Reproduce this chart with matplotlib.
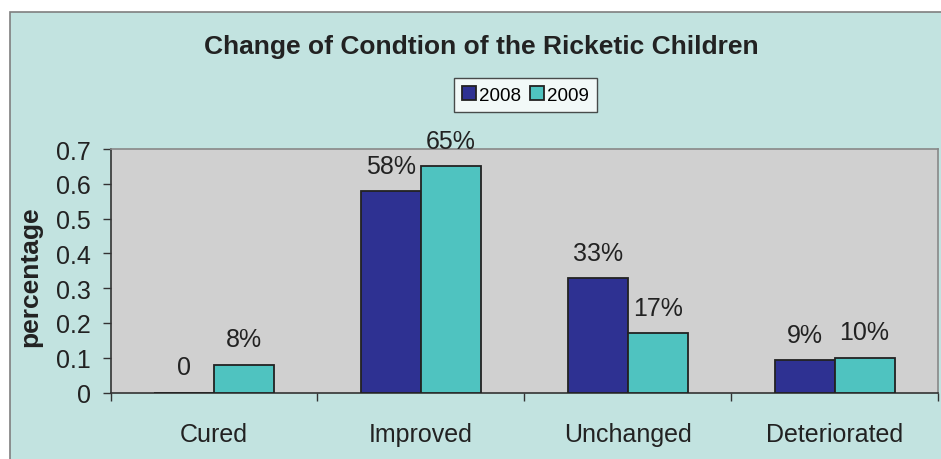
import matplotlib
matplotlib.use('Agg')
import matplotlib.pyplot as plt
from matplotlib.patches import Rectangle
from matplotlib.ticker import FuncFormatter, FixedLocator
import numpy as np

plt.rcParams['font.family'] = ['Liberation Sans', 'DejaVu Sans']

categories = ['Cured', 'Improved', 'Unchanged', 'Deteriorated']
series_names = ['2008', '2009']
values_2008 = [0.0, 0.58, 0.33, 0.093]
values_2009 = [0.08, 0.65, 0.17, 0.10]
labels_2008 = ['0', '58%', '33%', '9%']
labels_2009 = ['8%', '65%', '17%', '10%']
y_ticks = [0, 0.1, 0.2, 0.3, 0.4, 0.5, 0.6, 0.7]

col_2008 = '#2e3192'
col_2009 = '#4fc3c0'
bg_outer = '#c2e3e0'
bg_plot = '#d0d0d0'

fig = plt.figure(figsize=(9.41, 4.6), dpi=100)
fig.patch.set_facecolor('white')

# chart area frame (cropped on the right and bottom)
frame = Rectangle((10 / 941, -0.1), 1.1, 1 - 13 / 460 + 0.1,
                  transform=fig.transFigure, facecolor=bg_outer,
                  edgecolor='#7f7f7f', linewidth=1.2, zorder=-10)
fig.patches.append(frame)

ax = fig.add_axes([110.5 / 941, 1 - 393.5 / 460, 827.5 / 941, 243.5 / 460])
ax.set_zorder(2)
ax.set_facecolor(bg_plot)

x = np.arange(len(categories))
w = 0.29
b1 = ax.bar(x - w / 2, values_2008, w, color=col_2008, edgecolor='#222222',
            linewidth=1.3, label=series_names[0], zorder=3)
b2 = ax.bar(x + w / 2, values_2009, w, color=col_2009, edgecolor='#222222',
            linewidth=1.3, label=series_names[1], zorder=3)

lab_size = 18
for rect, lab in zip(b1, labels_2008):
    ax.annotate(lab, (rect.get_x() + rect.get_width() / 2, rect.get_height()),
                xytext=(0, 18), textcoords='offset points', ha='center',
                va='center', fontsize=lab_size, color='#222222')
for rect, lab in zip(b2, labels_2009):
    ax.annotate(lab, (rect.get_x() + rect.get_width() / 2, rect.get_height()),
                xytext=(0, 18.5), textcoords='offset points', ha='center',
                va='center', fontsize=lab_size, color='#222222')

ax.set_xlim(-0.5, len(categories) - 0.5)
ax.set_ylim(0, 0.7)
ax.set_yticks(y_ticks)
ax.yaxis.set_major_formatter(FuncFormatter(lambda v, p: '0' if v == 0 else f'{v:g}'))
ax.tick_params(axis='y', direction='out', length=6, width=1, color='#333333',
               labelsize=lab_size, pad=8, labelcolor='#222222')

ax.set_xticks(x)
ax.set_xticklabels(categories)
ax.tick_params(axis='x', which='major', length=0, pad=21, labelsize=lab_size,
               labelcolor='#222222')
ax.xaxis.set_minor_locator(FixedLocator(np.arange(len(categories) + 1) - 0.5))
ax.tick_params(axis='x', which='minor', direction='out', length=6, width=1,
               color='#333333')

for s in ['left', 'bottom']:
    ax.spines[s].set_color('#333333')
    ax.spines[s].set_linewidth(1.2)
for s in ['top', 'right']:
    ax.spines[s].set_color('#888888')
    ax.spines[s].set_linewidth(1.2)

fig.text(0.032, 1 - 276.5 / 460, 'percentage', rotation=90, ha='center',
         va='center', fontsize=19, fontweight='bold', color='#222222')
fig.text(481 / 941, 1 - 47 / 460, 'Change of Condtion of the Ricketic Children',
         ha='center', va='center', fontsize=19, fontweight='bold',
         color='#222222')

leg = fig.legend(loc='center', bbox_to_anchor=(525.5 / 941, 1 - 96 / 460),
                 ncol=2, fontsize=13.5, handlelength=0.75, handleheight=0.75,
                 handletextpad=0.15, columnspacing=0.5, borderpad=0.45,
                 frameon=True, fancybox=False, borderaxespad=0)
leg.get_frame().set_edgecolor('#222222')
leg.get_frame().set_linewidth(1)
leg.get_frame().set_facecolor('white')

fig.savefig('out.png', dpi=100, facecolor=fig.get_facecolor())
